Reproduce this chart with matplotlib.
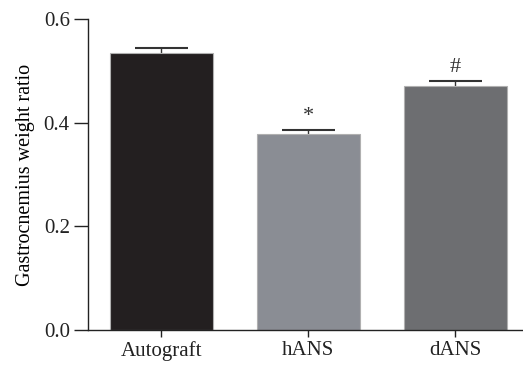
import matplotlib
matplotlib.use("Agg")
import matplotlib.pyplot as plt
import numpy as np

groups = ['Autograft', 'hANS', 'dANS']
ratio = [0.535, 0.378, 0.471]
sem = [0.010, 0.008, 0.010]
marks = ['', '*', '#']
colors = ['#231f20', '#8a8d94', '#6d6e71']

plt.rcParams['font.family'] = 'Liberation Serif'

fig = plt.figure(figsize=(5.23, 3.66), dpi=100)
ax = fig.add_axes([0.168, 0.0984, 0.832, 0.8496])

x = np.arange(len(groups))
top = np.array(ratio) + np.array(sem)
ax.bar(x, ratio, width=0.7, color=colors, edgecolor='#b0b0b0', linewidth=0.8, zorder=2)
# upper error bars only
ax.vlines(x, ratio, top, color='#333333', linewidth=1.0, zorder=1)
ax.hlines(top, x - 0.18, x + 0.18, color='#333333', linewidth=1.5, zorder=3)
for i, m in enumerate(marks):
    if m:
        ax.text(x[i], top[i] + 0.008, m, ha='center', va='bottom',
                fontsize=16, color='#333333')

ax.set_xlim(-0.5, 2.46)
ax.set_ylim(0, 0.6)
ax.set_yticks([0.0, 0.2, 0.4, 0.6])
ax.set_yticklabels(['0.0', '0.2', '0.4', '0.6'])
ax.set_xticks(x)
ax.set_xticklabels(groups)
ax.set_ylabel('Gastrocnemius weight ratio', fontsize=14.5, labelpad=6)

for s in ['top', 'right']:
    ax.spines[s].set_visible(False)
for s in ['left', 'bottom']:
    ax.spines[s].set_linewidth(1.0)
    ax.spines[s].set_color('#222222')
ax.tick_params(axis='y', length=10, width=1.0, labelsize=15, pad=3, colors='#222222')
ax.tick_params(axis='x', length=5, width=1.0, labelsize=15, pad=3, colors='#222222')

fig.savefig('out.png', dpi=100)
